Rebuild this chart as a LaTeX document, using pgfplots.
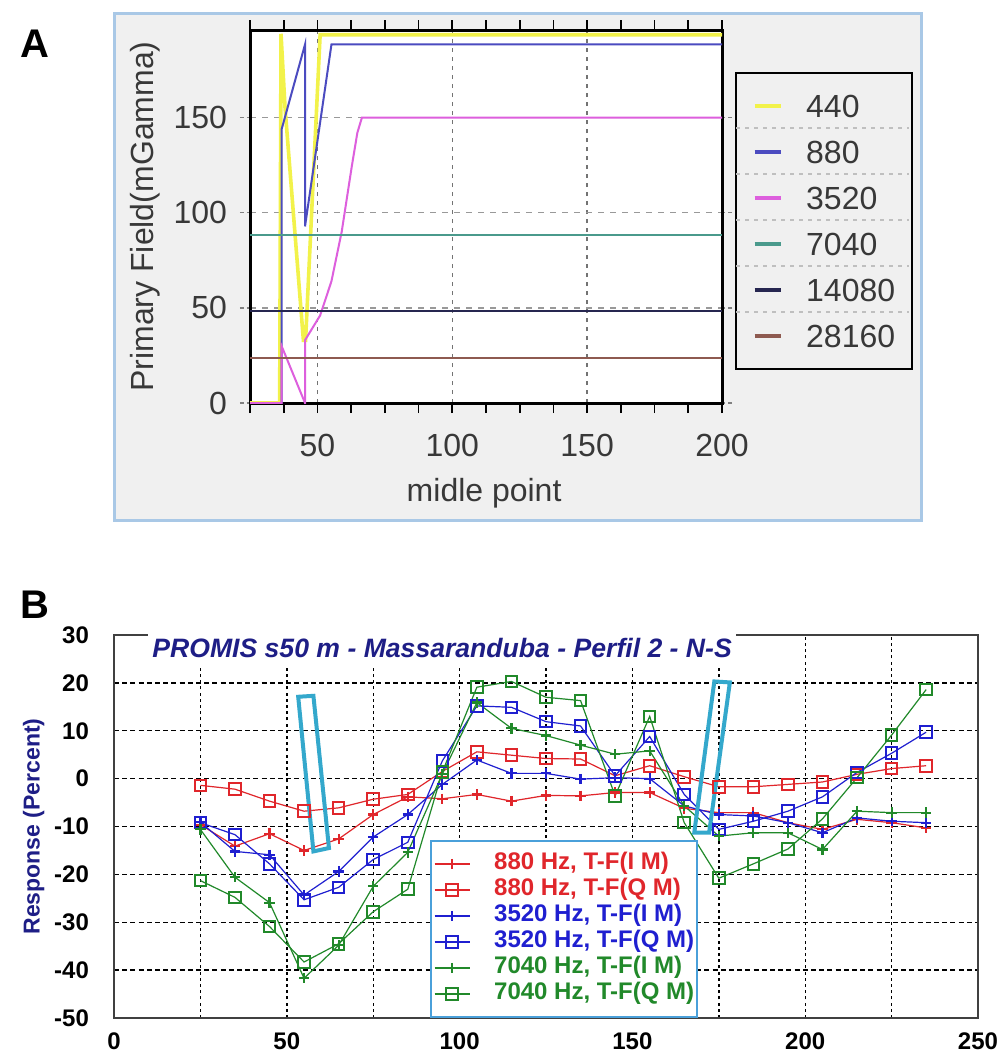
\documentclass[border=0pt]{standalone}
\usepackage{pgfplots}
\pgfplotsset{compat=1.18}
\usepackage{fontspec}
\setmainfont{Liberation Sans}
\definecolor{panelbg}{HTML}{F0F0F0}
\definecolor{panelbd}{HTML}{A9C8E6}
\definecolor{txtA}{HTML}{383838}
\definecolor{cYel}{HTML}{F2F24A}
\definecolor{cBlu}{HTML}{4B4BC0}
\definecolor{cMag}{HTML}{DD5FDD}
\definecolor{cTea}{HTML}{4A9A8C}
\definecolor{cNav}{HTML}{262650}
\definecolor{cBro}{HTML}{8E5A50}
\definecolor{bred}{HTML}{E0262B}
\definecolor{bblue}{HTML}{1F1FD0}
\definecolor{bgreen}{HTML}{21892A}
\definecolor{navy}{HTML}{1E1E86}
\definecolor{cyanbox}{HTML}{34A8CC}
\definecolor{legbd}{HTML}{4AA0DA}

\begin{document}
\begin{tikzpicture}
\useasboundingbox (0,0) rectangle (501.5pt,-529.5pt);
\fill[white] (0,0) rectangle (501.5pt,-529.5pt);
\draw[panelbd, fill=panelbg, line width=1.5pt] (57pt,-7pt) rectangle (460.5pt,-260pt);
\node[anchor=base west, inner sep=0pt, font=\fontsize{20}{24}\selectfont\bfseries] at (10pt,-29pt) {A};
\node[anchor=base west, inner sep=0pt, font=\fontsize{20}{24}\selectfont\bfseries] at (10pt,-309pt) {B};

% ---------------- Panel A ----------------
\begin{axis}[
  scale only axis, width=236pt, height=186.5pt,
  at={(125pt,-201.5pt)}, anchor=south west,
  xmin=25, xmax=200, ymin=0, ymax=196,
  axis background/.style={fill=white},
  axis line style={line width=1.5pt, black},
  xtick={50,100,150,200},
  minor xtick={25,37.5,62.5,75,87.5,112.5,125,137.5,162.5,175,187.5},
  ytick={0,50,100,150},
  tick align=outside, major tick length=5pt, minor tick length=5pt,
  xtick style={black, line width=0.8pt},
  ytick style={black!50, line width=0.8pt, dash pattern=on 2pt off 1.5pt},
  xmajorgrids, ymajorgrids,
  x grid style={black!55, line width=0.7pt, dash pattern=on 2pt off 2.5pt},
  y grid style={black!40, line width=0.7pt, dash pattern=on 3pt off 3pt},
  /pgf/number format/assume math mode=true,
  tick label style={font=\fontsize{16}{18}\selectfont, text=txtA},
  xticklabel style={yshift=-7pt},
  yticklabel style={xshift=-3pt},
  xlabel={midle point}, ylabel={Primary Field(mGamma)},
  label style={font=\fontsize{16}{18}\selectfont, text=txtA},
  xlabel style={at={(rel axis cs:0.496,-0.241)}, anchor=center},
  ylabel style={at={(rel axis cs:-0.2225,0.5)}, anchor=center},
  legend cell align=left,
  legend style={at={(rel axis cs:1.0275,0.8874)}, anchor=north west,
    draw=black, line width=1pt, fill=panelbg,
    inner xsep=8.5pt, inner ysep=5pt, row sep=0pt, column sep=12pt,
    font=\fontsize{16}{18}\selectfont, text=txtA,
    nodes={inner xsep=0pt, inner ysep=0pt, text height=17.25pt, text depth=5.75pt}},
  legend image code/.code={\draw[#1, line width=1.6pt] (0pt,0pt) -- (13pt,0pt);},
]
\addplot[cYel, line width=1.8pt] coordinates {(25,0) (36,0) (36.5,194) (38,155) (44.8,33) (45.6,33) (51,193.5) (200,193.5)};
\addlegendentry{440}
\addplot[cBlu, line width=1pt] coordinates {(25,0) (36.7,0) (36.7,143.7) (45.4,188.4) (45.4,92.8) (55.2,188.4) (200,188.4)};
\addlegendentry{880}
\addplot[cMag, line width=1pt] coordinates {(25,0) (36.7,0) (36.7,30) (45.4,0) (45.4,33) (51,46) (55.2,64) (59,90) (62.7,124) (64.8,142) (66.5,150) (200,150)};
\addlegendentry{3520}
\addplot[cTea, line width=1pt] coordinates {(25,88.4) (200,88.4)};
\addlegendentry{7040}
\addplot[cNav, line width=1pt] coordinates {(25,48.5) (200,48.5)};
\addlegendentry{14080}
\addplot[cBro, line width=1pt] coordinates {(25,23.7) (200,23.7)};
\addlegendentry{28160}
\end{axis}
\foreach \yy in {-64,-87,-110,-133,-156}{
  \draw[black!25, line width=0.7pt, dash pattern=on 2pt off 2.5pt] (368pt,\yy pt) -- (454.5pt,\yy pt);
}

% ---------------- Panel B ----------------
\begin{axis}[
  scale only axis, width=432pt, height=191.5pt,
  at={(57pt,-509pt)}, anchor=south west,
  xmin=0, xmax=250, ymin=-50, ymax=30,
  xtick={0,50,...,250}, minor xtick={25,75,...,225},
  ytick={-50,-40,...,30},
  major tick length=0pt, minor tick length=0pt,
  grid=both,
  x grid style={black, line width=0.7pt, dash pattern=on 1.5pt off 1.6pt},
  y grid style={black, line width=0.7pt, dash pattern=on 2.5pt off 1.6pt},
  axis line style={black!75, line width=0.8pt},
  /pgf/number format/assume math mode=true,
  tick label style={font=\fontsize{12}{14}\selectfont\bfseries, text=black},
  xticklabel style={yshift=-4pt},
  yticklabel style={xshift=-9pt},
  ylabel={Response (Percent)},
  ylabel style={at={(rel axis cs:-0.093,0.5)}, anchor=center, font=\fontsize{11.5}{13}\selectfont\bfseries, text=navy},
  legend cell align=left,
  legend style={at={(rel axis cs:0.3657,0)}, anchor=south west,
    draw=legbd, line width=1pt, fill=white,
    inner xsep=1.5pt, inner ysep=5pt, row sep=0pt, column sep=12pt,
    font=\fontsize{12}{14}\selectfont\bfseries,
    nodes={inner xsep=0pt, inner ysep=0pt, text height=9pt, text depth=4pt}},
  legend image code/.code={\draw[mark repeat=2, mark phase=2, #1] plot coordinates {(0pt,0pt) (8.75pt,0pt) (17.5pt,0pt)};},
  every axis plot/.append style={line width=0.6pt},
]
\addplot[bred, mark=+, mark size=2.6pt, mark options={line width=1.1pt}] coordinates {
(25,-9.6) (35,-14.1) (45,-11.5) (55,-15.0) (65,-12.6) (75,-7.5) (85,-3.8) (95,-4.2) (105,-3.3) (115,-4.7) (125,-3.5)
(135,-3.6) (145,-2.9) (155,-2.9) (165,-6.2) (175,-7.1) (185,-7.1) (195,-9.2) (205,-10.6) (215,-8.5) (225,-9.2) (235,-10.3)};
\addlegendentry{\textcolor{bred}{880 Hz, T-F(I M)}}
\addplot[bred, mark=square, mark size=2.9pt, mark options={line width=1pt}] coordinates {
(25,-1.4) (35,-2.2) (45,-4.7) (55,-6.8) (65,-6.1) (75,-4.3) (85,-3.3) (95,1.5) (105,5.6) (115,4.9) (125,4.2)
(135,4.1) (145,0.6) (155,2.7) (165,0.4) (175,-1.7) (185,-1.7) (195,-1.2) (205,-0.7) (215,0.9) (225,2.1) (235,2.7)};
\addlegendentry{\textcolor{bred}{880 Hz, T-F(Q M)}}
\addplot[bblue, mark=+, mark size=2.6pt, mark options={line width=1.1pt}] coordinates {
(25,-9.1) (35,-15.2) (45,-15.9) (55,-24.3) (65,-19.4) (75,-12.2) (85,-7.5) (95,-1.2) (105,3.9) (115,1.1) (125,1.1)
(135,-0.1) (145,0.2) (155,0) (165,-5.7) (175,-7.5) (185,-7.8) (195,-9.2) (205,-11.3) (215,-8.2) (225,-8.9) (235,-9.2)};
\addlegendentry{\textcolor{bblue}{3520 Hz, T-F(I M)}}
\addplot[bblue, mark=square, mark size=2.9pt, mark options={line width=1pt}] coordinates {
(25,-9.2) (35,-11.7) (45,-17.8) (55,-25.3) (65,-22.7) (75,-16.9) (85,-13.3) (95,3.7) (105,15.2) (115,14.9) (125,11.9)
(135,11.0) (145,0.6) (155,8.8) (165,-3.3) (175,-10.6) (185,-8.9) (195,-6.8) (205,-3.8) (215,1.3) (225,5.3) (235,9.7)};
\addlegendentry{\textcolor{bblue}{3520 Hz, T-F(Q M)}}
\addplot[bgreen, mark=+, mark size=2.6pt, mark options={line width=1.1pt}] coordinates {
(25,-10.6) (35,-20.6) (45,-25.9) (55,-41.7) (65,-34.8) (75,-22.5) (85,-15.4) (95,1.0) (105,15.9) (115,10.5) (125,9.0)
(135,7.0) (145,5.1) (155,5.8) (165,-5.7) (175,-12.0) (185,-11.3) (195,-11.3) (205,-14.8) (215,-6.8) (225,-7.1) (235,-7.1)};
\addlegendentry{\textcolor{bgreen}{7040 Hz, T-F(I M)}}
\addplot[bgreen, mark=square, mark size=2.9pt, mark options={line width=1pt}] coordinates {
(25,-21.3) (35,-24.8) (45,-30.9) (55,-38.3) (65,-34.5) (75,-27.8) (85,-23.1) (95,1.4) (105,19.1) (115,20.3) (125,17.0)
(135,16.3) (145,-3.6) (155,13.0) (165,-9.2) (175,-20.8) (185,-17.8) (195,-14.7) (205,-8.4) (215,0.2) (225,9.1) (235,18.6)};
\addlegendentry{\textcolor{bgreen}{7040 Hz, T-F(Q M)}}
\draw[cyanbox, line width=2pt] (axis cs:53.3,17.1) -- (axis cs:57.7,17.3) -- (axis cs:62.2,-14.5) -- (axis cs:57.7,-15.2) -- cycle;
\draw[cyanbox, line width=2pt] (axis cs:173.7,20.3) -- (axis cs:178.2,20.1) -- (axis cs:172.2,-11.3) -- (axis cs:167.9,-11.3) -- cycle;
\end{axis}
\node[anchor=base west, fill=white, inner xsep=2pt, inner ysep=2pt, text height=10pt, text depth=3pt,
  font=\fontsize{13.3}{15}\selectfont\bfseries\itshape, text=navy] at (74pt,-328.5pt) {PROMIS s50 m - Massaranduba - Perfil 2 - N-S};
\end{tikzpicture}
\end{document}
